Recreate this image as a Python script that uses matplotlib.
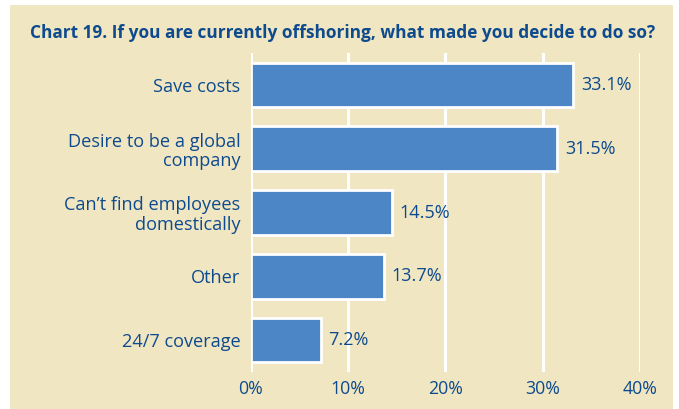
import matplotlib.pyplot as plt
from matplotlib.patches import Rectangle

categories = ['Save costs', 'Desire to be a global\ncompany', 'Can\u2019t find employees\ndomestically',
              'Other', '24/7 coverage']
values = [33.1, 31.5, 14.5, 13.7, 7.2]
ticks = [0, 10, 20, 30, 40]

bg = '#F0E6C2'
bar_col = '#4D86C6'
txt = '#0D4A8E'

plt.rcParams['font.family'] = ['Open Sans', 'DejaVu Sans']

fig = plt.figure(figsize=(6.79, 4.09), dpi=100)
fig.patch.set_facecolor('white')
fig.patches.append(Rectangle((10 / 679, 0), 663 / 679, 404 / 409, transform=fig.transFigure,
                             facecolor=bg, edgecolor='none', zorder=-5))

ax = fig.add_axes([250.7 / 679, 37 / 409, 389.5 / 679, 319 / 409])
ax.set_facecolor('none')

# Title
fig.text(343 / 679, 1 - 33 / 409, 'Chart 19. If you are currently offshoring, what made you decide to do so?',
         ha='center', va='center', fontsize=12.4, fontweight='bold', color=txt)

y = list(range(len(categories)))
ax.barh(y, values, height=0.7, color=bar_col, edgecolor='white', linewidth=2, zorder=3)

for yi, v in zip(y, values):
    ax.text(v + 0.8, yi, f'{v}%', va='center', ha='left', fontsize=13, color=txt)

ax.set_xlim(0, 40)
ax.set_ylim(len(categories) - 0.5, -0.5)
ax.set_xticks(ticks)
ax.set_xticklabels([f'{t}%' for t in ticks], fontsize=12.8, color=txt)
ax.set_yticks(y)
ax.set_yticklabels(categories, fontsize=13.1, color=txt, linespacing=1.1)
for lab in ax.get_yticklabels():
    lab.set_horizontalalignment('right')
ax.tick_params(length=0, pad=7.5)
ax.tick_params(axis='x', pad=6)
for s in ax.spines.values():
    s.set_visible(False)
ax.grid(axis='x', color='white', linewidth=2.2, zorder=1)
ax.set_axisbelow(True)

fig.savefig('out.png', dpi=100, facecolor=fig.get_facecolor())
